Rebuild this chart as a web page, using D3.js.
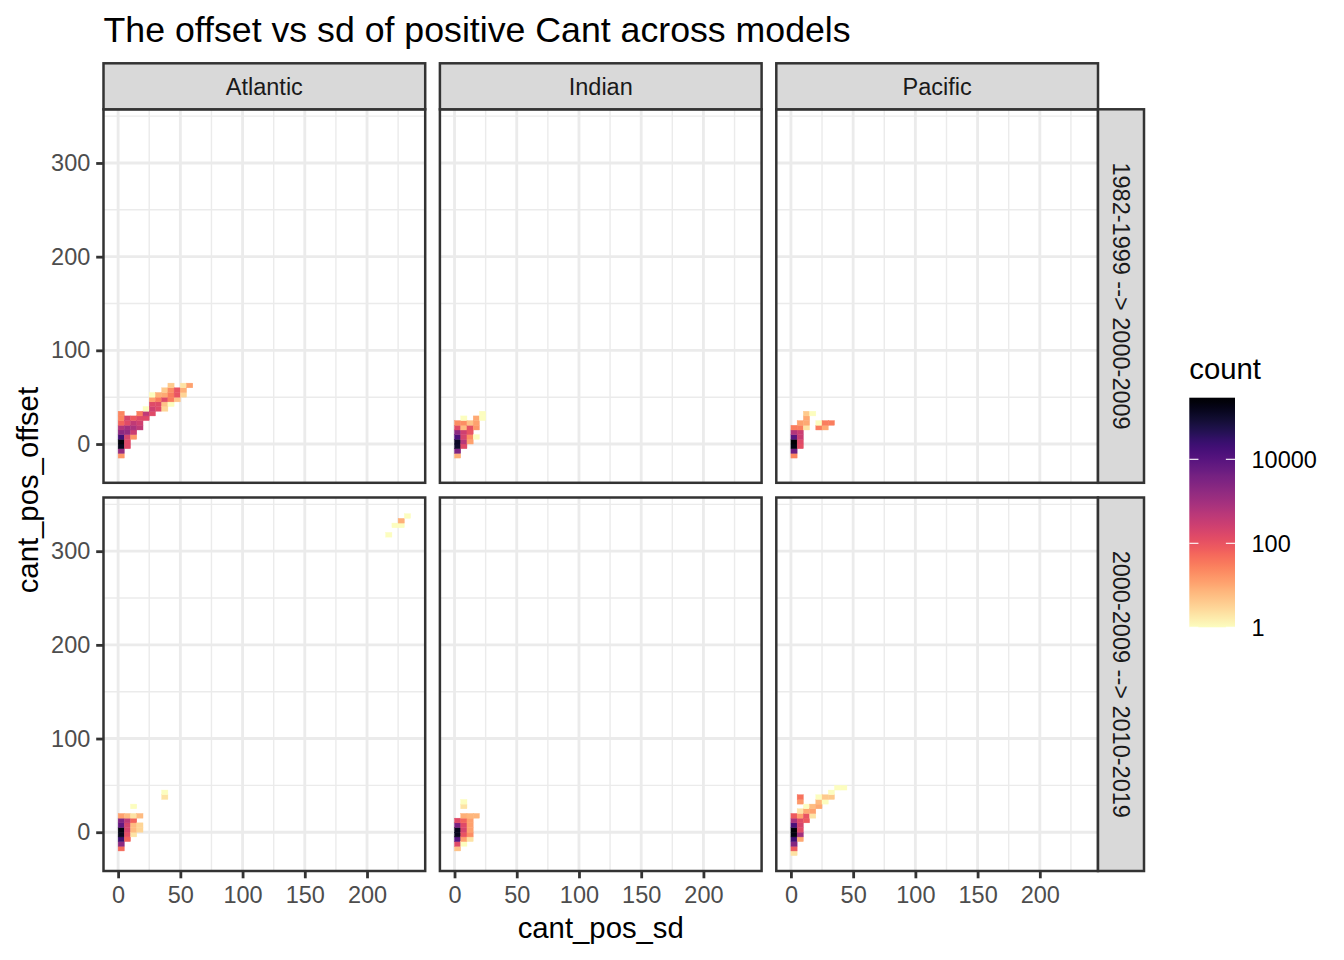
<!DOCTYPE html>
<html>
<head>
<meta charset="utf-8">
<script src="https://cdn.jsdelivr.net/npm/d3@7"></script>
<style>
  body { margin: 0; background: #fff; }
  svg text { font-family: "Liberation Sans", Arial, Helvetica, sans-serif; }
</style>
</head>
<body>
<div id="chart"></div>
<script>
const oceans = ["Atlantic", "Indian", "Pacific"];
const periods = ["1982-1999 --> 2000-2009", "2000-2009 --> 2010-2019"];
const binWidth = 5;

// bins: [cant_pos_sd bin start, cant_pos_offset bin start, count]
const atlantic_1 = [
  [0, -15, 15], [0, -10, 1500], [0, -5, 150000], [0, 0, 250000], [0, 5, 20000],
  [0, 10, 2000], [0, 15, 600], [0, 20, 60], [0, 25, 25], [0, 30, 25],
  [5, -5, 150], [5, 0, 150], [5, 5, 200], [5, 10, 1500], [5, 15, 1000], [5, 20, 150], [5, 25, 200],
  [10, 5, 15], [10, 10, 300], [10, 15, 800], [10, 20, 400], [10, 25, 80],
  [15, 15, 400], [15, 20, 250], [15, 25, 150], [15, 30, 30],
  [20, 25, 150], [20, 30, 400], [20, 35, 1],
  [25, 30, 150], [25, 35, 250], [25, 40, 150], [25, 45, 12], [25, 50, 1],
  [30, 35, 150], [30, 40, 150], [30, 45, 30], [30, 50, 8],
  [35, 35, 3], [35, 40, 5], [35, 45, 150], [35, 50, 10], [35, 55, 4],
  [40, 40, 1], [40, 45, 30], [40, 50, 30], [40, 55, 20], [40, 60, 4],
  [45, 45, 5], [45, 50, 100], [45, 55, 100],
  [50, 50, 3], [50, 55, 8], [50, 60, 2],
  [55, 60, 12]
];
const indian_1 = [
  [0, -15, 8], [0, -10, 3000], [0, -5, 100000], [0, 0, 120000], [0, 5, 15000],
  [0, 10, 2000], [0, 15, 150], [0, 20, 20],
  [5, -5, 150], [5, 0, 500], [5, 5, 200], [5, 10, 250], [5, 15, 6], [5, 20, 20], [5, 25, 1],
  [10, 0, 12], [10, 5, 20], [10, 10, 100], [10, 15, 120], [10, 20, 5],
  [15, 5, 1], [15, 15, 15], [15, 20, 12], [15, 25, 10],
  [20, 25, 1], [20, 30, 1]
];
const pacific_1 = [
  [0, -15, 25], [0, -10, 5000], [0, -5, 200000], [0, 0, 293000], [0, 5, 10000],
  [0, 10, 600], [0, 15, 30],
  [5, -5, 120], [5, 0, 150], [5, 5, 300], [5, 10, 300], [5, 15, 30], [5, 20, 12],
  [10, 15, 2], [10, 20, 10], [10, 25, 10], [10, 30, 4],
  [15, 30, 1],
  [20, 15, 30], [20, 20, 1],
  [25, 15, 10], [25, 20, 30],
  [30, 20, 30]
];
const atlantic_2 = [
  [0, -20, 50], [0, -15, 2000], [0, -10, 25000], [0, -5, 150000], [0, 0, 200000],
  [0, 5, 7000], [0, 10, 3000], [0, 15, 12],
  [5, -10, 60], [5, -5, 120], [5, 0, 200], [5, 5, 200], [5, 10, 400], [5, 15, 6],
  [10, -5, 2], [10, 0, 6], [10, 5, 6], [10, 10, 60], [10, 15, 2], [10, 25, 1],
  [15, 0, 3], [15, 5, 3], [15, 15, 6],
  [35, 35, 2], [35, 40, 1],
  [215, 315, 1], [220, 325, 1], [225, 325, 1], [225, 330, 8], [230, 335, 1]
];
const indian_2 = [
  [0, -20, 5], [0, -15, 150], [0, -10, 10000], [0, -5, 150000], [0, 0, 150000],
  [0, 5, 3500], [0, 10, 150],
  [5, -15, 1], [5, -10, 12], [5, -5, 100], [5, 0, 200], [5, 5, 150], [5, 10, 60],
  [5, 15, 8], [5, 25, 2], [5, 30, 1],
  [10, -10, 2], [10, -5, 20], [10, 0, 12], [10, 5, 12], [10, 10, 12], [10, 15, 7],
  [15, 15, 7]
];
const pacific_2 = [
  [0, -25, 2], [0, -20, 80], [0, -15, 2500], [0, -10, 20000], [0, -5, 200000],
  [0, 0, 250000], [0, 5, 15000], [0, 10, 800], [0, 15, 80],
  [5, -10, 10], [5, -5, 1000], [5, 0, 150], [5, 5, 200], [5, 10, 150], [5, 15, 12],
  [5, 20, 2], [5, 30, 15], [5, 35, 40],
  [10, 10, 80], [10, 15, 100], [10, 20, 10], [10, 25, 1],
  [15, 15, 2], [15, 20, 12], [15, 25, 6],
  [20, 25, 10], [20, 30, 6], [20, 35, 1],
  [25, 30, 1], [25, 35, 4],
  [30, 35, 4], [30, 40, 1],
  [35, 45, 1], [40, 45, 1]
];
const panels = [
  [atlantic_1, indian_1, pacific_1],
  [atlantic_2, indian_2, pacific_2]
];

const xTicks = [0, 50, 100, 150, 200];
const xMinor = [25, 75, 125, 175, 225];
const yTicks = [0, 100, 200, 300];
const yMinor = [50, 150, 250, 350];
const countTicks = [1, 100, 10000];
const xLimits = [-11.75, 246.75];
const yLimits = [-41.4, 357.3];

const width = 1344;
const height = 960;
const plotLeft = 103.5;
const plotTop = 109.3;
const panelW = 321.7;
const panelH = 373.5;
const spacing = 14.7;
const stripH = 46;
const font = '"Liberation Sans", Arial, Helvetica, sans-serif';

const svg = d3
  .select("#chart")
  .append("svg")
  .attr("width", width)
  .attr("height", height);

svg.append("rect").attr("width", width).attr("height", height).attr("fill", "white");

const x = d3.scaleLinear().domain(xLimits).range([0, panelW]);
const y = d3.scaleLinear().domain(yLimits).range([panelH, 0]);

const allCounts = panels.flat(2).map((d) => d[2]);
const maxCount = d3.max(allCounts);
const color = d3
  .scaleSequentialLog((t) => d3.interpolateMagma(1 - t))
  .domain([1, maxCount]);

panels.forEach((row, ri) => {
  row.forEach((bins, ci) => {
    const px = plotLeft + ci * (panelW + spacing);
    const py = plotTop + ri * (panelH + spacing);
    const g = svg.append("g").attr("transform", `translate(${px},${py})`);

    g.append("rect").attr("width", panelW).attr("height", panelH).attr("fill", "white");

    // grid
    g.selectAll(".vminor")
      .data(xMinor)
      .enter()
      .append("line")
      .attr("x1", (d) => x(d))
      .attr("x2", (d) => x(d))
      .attr("y1", 0)
      .attr("y2", panelH)
      .attr("stroke", "#ebebeb")
      .attr("stroke-width", 1.42);
    g.selectAll(".hminor")
      .data(yMinor)
      .enter()
      .append("line")
      .attr("y1", (d) => y(d))
      .attr("y2", (d) => y(d))
      .attr("x1", 0)
      .attr("x2", panelW)
      .attr("stroke", "#ebebeb")
      .attr("stroke-width", 1.42);
    g.selectAll(".vmajor")
      .data(xTicks)
      .enter()
      .append("line")
      .attr("x1", (d) => x(d))
      .attr("x2", (d) => x(d))
      .attr("y1", 0)
      .attr("y2", panelH)
      .attr("stroke", "#ebebeb")
      .attr("stroke-width", 2.84);
    g.selectAll(".hmajor")
      .data(yTicks)
      .enter()
      .append("line")
      .attr("y1", (d) => y(d))
      .attr("y2", (d) => y(d))
      .attr("x1", 0)
      .attr("x2", panelW)
      .attr("stroke", "#ebebeb")
      .attr("stroke-width", 2.84);

    // bins
    g.selectAll(".bin")
      .data(bins)
      .enter()
      .append("rect")
      .attr("class", "bin")
      .attr("x", (d) => x(d[0]))
      .attr("y", (d) => y(d[1] + binWidth))
      .attr("width", (d) => x(d[0] + binWidth) - x(d[0]))
      .attr("height", (d) => y(d[1]) - y(d[1] + binWidth))
      .attr("fill", (d) => color(d[2]))
      .attr("stroke", (d) => color(d[2]))
      .attr("stroke-width", 0.4);

    g.append("rect")
      .attr("width", panelW)
      .attr("height", panelH)
      .attr("fill", "none")
      .attr("stroke", "#333333")
      .attr("stroke-width", 2.5);

    // axes
    if (ri === panels.length - 1) {
      const ax = g
        .append("g")
        .attr("transform", `translate(0,${panelH})`)
        .call(d3.axisBottom(x).tickValues(xTicks).tickSize(7.3).tickPadding(8));
      styleAxis(ax);
    }
    if (ci === 0) {
      const ay = g
        .append("g")
        .call(d3.axisLeft(y).tickValues(yTicks).tickSize(7.3).tickPadding(5.9));
      styleAxis(ay);
    }

    // top strips
    if (ri === 0) {
      svg.append("rect")
        .attr("x", px)
        .attr("y", plotTop - stripH)
        .attr("width", panelW)
        .attr("height", stripH)
        .attr("fill", "#d9d9d9")
        .attr("stroke", "#333333")
        .attr("stroke-width", 2.5);
      svg.append("text")
        .attr("x", px + panelW / 2)
        .attr("y", plotTop - stripH / 2)
        .attr("dy", "0.36em")
        .attr("text-anchor", "middle")
        .attr("font-size", 23.5)
        .attr("fill", "#1a1a1a")
        .text(oceans[ci]);
    }
    // right strips
    if (ci === row.length - 1) {
      const sx = px + panelW;
      svg.append("rect")
        .attr("x", sx)
        .attr("y", py)
        .attr("width", stripH)
        .attr("height", panelH)
        .attr("fill", "#d9d9d9")
        .attr("stroke", "#333333")
        .attr("stroke-width", 2.5);
      svg.append("text")
        .attr("transform", `translate(${sx + stripH / 2},${py + panelH / 2}) rotate(90)`)
        .attr("dy", "0.36em")
        .attr("text-anchor", "middle")
        .attr("font-size", 23.5)
        .attr("fill", "#1a1a1a")
        .text(periods[ri]);
    }
  });
});

function styleAxis(a) {
  a.attr("font-family", font).attr("font-size", 23.5);
  a.select(".domain").remove();
  a.selectAll(".tick line").attr("stroke", "#333333").attr("stroke-width", 2.8);
  a.selectAll(".tick text").attr("fill", "#4d4d4d");
}

// titles
svg.append("text")
  .attr("x", plotLeft)
  .attr("y", 41.7)
  .attr("font-size", 35.7)
  .attr("fill", "black")
  .text("The offset vs sd of positive Cant across models");

const plotRight = plotLeft + 3 * panelW + 2 * spacing;
const plotBottom = plotTop + 2 * panelH + spacing;

svg.append("text")
  .attr("x", (plotLeft + plotRight) / 2)
  .attr("y", 938)
  .attr("text-anchor", "middle")
  .attr("font-size", 29.3)
  .attr("fill", "black")
  .text("cant_pos_sd");

svg.append("text")
  .attr("transform", `translate(38,${(plotTop + plotBottom) / 2}) rotate(-90)`)
  .attr("text-anchor", "middle")
  .attr("font-size", 29.3)
  .attr("fill", "black")
  .text("cant_pos_offset");

// legend
const barX = 1189.3;
const barW = 45.7;
const legendY = d3.scaleLog().domain([1, maxCount]).range([627.3, 397.7]);

svg.append("text")
  .attr("x", barX)
  .attr("y", 379)
  .attr("font-size", 29.3)
  .attr("fill", "black")
  .text("count");

const gradient = svg
  .append("defs")
  .append("linearGradient")
  .attr("id", "count_gradient")
  .attr("x1", 0)
  .attr("y1", 1)
  .attr("x2", 0)
  .attr("y2", 0);
gradient
  .selectAll("stop")
  .data(d3.range(0, 1.0001, 0.02))
  .enter()
  .append("stop")
  .attr("offset", (t) => t)
  .attr("stop-color", (t) => d3.interpolateMagma(1 - t));

svg.append("rect")
  .attr("x", barX)
  .attr("y", legendY.range()[1])
  .attr("width", barW)
  .attr("height", legendY.range()[0] - legendY.range()[1])
  .attr("fill", "url(#count_gradient)");

svg.selectAll(".legend_tick_l")
  .data(countTicks)
  .enter()
  .append("line")
  .attr("x1", barX)
  .attr("x2", barX + barW / 5)
  .attr("y1", (d) => legendY(d))
  .attr("y2", (d) => legendY(d))
  .attr("stroke", "white")
  .attr("stroke-width", 1.1);
svg.selectAll(".legend_tick_r")
  .data(countTicks)
  .enter()
  .append("line")
  .attr("x1", barX + barW - barW / 5)
  .attr("x2", barX + barW)
  .attr("y1", (d) => legendY(d))
  .attr("y2", (d) => legendY(d))
  .attr("stroke", "white")
  .attr("stroke-width", 1.1);

svg.selectAll(".legend_label")
  .data(countTicks)
  .enter()
  .append("text")
  .attr("x", 1251.5)
  .attr("y", (d) => legendY(d))
  .attr("dy", "0.36em")
  .attr("font-size", 23.5)
  .attr("fill", "black")
  .text((d) => d);
</script>
</body>
</html>
